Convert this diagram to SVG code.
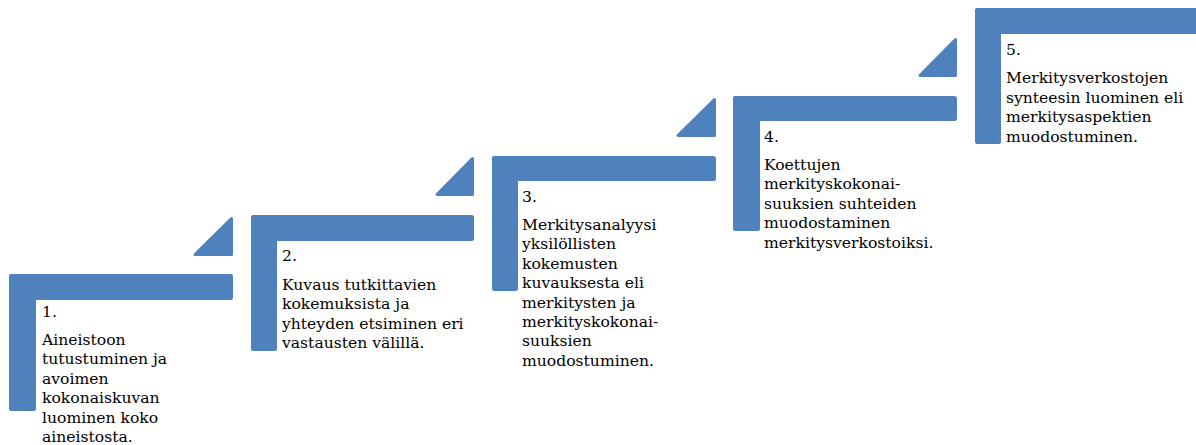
<svg xmlns="http://www.w3.org/2000/svg" width="1196" height="445" viewBox="0 0 1196 445">
<style>
.b{fill:#4F81BD}
.tri{fill:#4F81BD;stroke:#4F81BD;stroke-width:3;stroke-linejoin:round}
.t{font-family:"DejaVu Serif","Liberation Serif",serif;font-size:15.6px;fill:#000}
</style>
<rect width="1196" height="445" fill="#fff"/>
<g id="step1">
<rect class="b" x="9" y="274" width="224" height="26" rx="2.5"/>
<rect class="b" x="9" y="274" width="27" height="137" rx="2.5"/>
<polygon class="tri" points="231.5,218.5 195,254.5 231.5,254.5"/>
<text class="t" x="42"><tspan x="42" y="317">1.</tspan><tspan x="42" y="345">Aineistoon</tspan><tspan x="42" y="364.4">tutustuminen ja</tspan><tspan x="42" y="383.8">avoimen</tspan><tspan x="42" y="403.2">kokonaiskuvan</tspan><tspan x="42" y="422.6">luominen koko</tspan><tspan x="42" y="442">aineistosta.</tspan></text>
</g>
<g id="step2">
<rect class="b" x="251" y="215" width="223" height="26" rx="2.5"/>
<rect class="b" x="251" y="215" width="26" height="136" rx="2.5"/>
<polygon class="tri" points="472.5,158.5 437,194.5 472.5,194.5"/>
<text class="t"><tspan x="282" y="261">2.</tspan><tspan x="282" y="290">Kuvaus tutkittavien</tspan><tspan x="282" y="309.3">kokemuksista ja</tspan><tspan x="282" y="328.6">yhteyden etsiminen eri</tspan><tspan x="282" y="347.9">vastausten välillä.</tspan></text>
</g>
<g id="step3">
<rect class="b" x="492" y="156" width="224" height="25" rx="2.5"/>
<rect class="b" x="492" y="156" width="26" height="135" rx="2.5"/>
<polygon class="tri" points="714.5,99.5 678,135.5 714.5,135.5"/>
<text class="t"><tspan x="522" y="202">3.</tspan><tspan x="522" y="230">Merkitysanalyysi</tspan><tspan x="522" y="249.4">yksilöllisten</tspan><tspan x="522" y="268.8">kokemusten</tspan><tspan x="522" y="288.2">kuvauksesta eli</tspan><tspan x="522" y="307.6">merkitysten ja</tspan><tspan x="522" y="327">merkityskokonai-</tspan><tspan x="522" y="346.4">suuksien</tspan><tspan x="522" y="365.8">muodostuminen.</tspan></text>
</g>
<g id="step4">
<rect class="b" x="733" y="96" width="224" height="25" rx="2.5"/>
<rect class="b" x="733" y="96" width="27" height="135" rx="2.5"/>
<polygon class="tri" points="955.5,39.5 920,75.5 955.5,75.5"/>
<text class="t"><tspan x="764" y="142">4.</tspan><tspan x="764" y="170">Koettujen</tspan><tspan x="764" y="189.4">merkityskokonai-</tspan><tspan x="764" y="208.8">suuksien suhteiden</tspan><tspan x="764" y="228.2">muodostaminen</tspan><tspan x="764" y="247.6">merkitysverkostoiksi.</tspan></text>
</g>
<g id="step5">
<rect class="b" x="975" y="8" width="230" height="26" rx="2.5"/>
<rect class="b" x="975" y="8" width="26" height="136" rx="2.5"/>
<text class="t"><tspan x="1006" y="55">5.</tspan><tspan x="1006" y="83.3">Merkitysverkostojen</tspan><tspan x="1006" y="102.7">synteesin luominen eli</tspan><tspan x="1006" y="122.1">merkitysaspektien</tspan><tspan x="1006" y="141.5">muodostuminen.</tspan></text>
</g>
<g id="connectors"></g>
</svg>
